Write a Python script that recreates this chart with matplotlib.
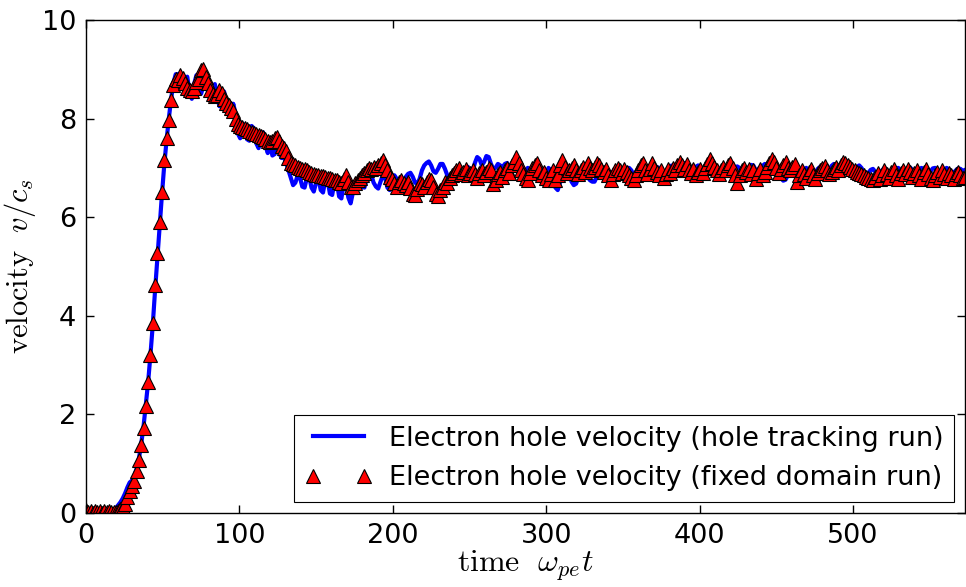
import numpy as np
import matplotlib
matplotlib.use('Agg')
import matplotlib.pyplot as plt

# time grid (omega_pe t), sampled every 1.5
tempo = np.arange(0, 574.5, 1.5)

# hole tracking run (blue line)
v_track = [
    0.03, 0.02, 0.02, 0.03, 0.02, 0.02, 0.03, 0.02, 0.03, 0.04, 0.04, 0.05, 0.07, 0.10, 0.16, 0.22, 0.30, 0.40, 0.52, 0.62,
    0.66, 0.75, 0.90, 1.10, 1.40, 1.75, 2.20, 2.65, 3.20, 3.80, 4.50, 5.15, 5.80, 6.45, 7.05, 7.55, 8.00, 8.40, 8.72, 8.90,
    8.90, 8.75, 8.60, 8.72, 8.85, 8.55, 8.40, 8.70, 8.88, 8.70, 8.50, 8.65, 8.80, 8.55, 8.38, 8.55, 8.70, 8.45, 8.25, 8.45,
    8.55, 8.35, 8.10, 8.05, 8.30, 8.10, 7.70, 7.60, 7.90, 7.85, 7.58, 7.55, 7.85, 7.80, 7.50, 7.40, 7.70, 7.72, 7.45, 7.30,
    7.50, 7.25, 7.28, 7.45, 7.30, 7.20, 7.22, 7.10, 6.95, 6.80, 6.65, 6.70, 6.85, 6.80, 6.62, 6.60, 6.80, 6.82, 6.60, 6.52,
    6.70, 6.80, 6.55, 6.50, 6.75, 6.75, 6.48, 6.45, 6.72, 6.72, 6.42, 6.38, 6.68, 6.70, 6.40, 6.28, 6.50, 6.72, 6.75, 6.58,
    6.62, 6.60, 6.78, 6.88, 6.85, 6.70, 6.62, 6.58, 6.72, 6.85, 6.80, 6.60, 6.55, 6.70, 6.85, 6.78, 6.58, 6.55, 6.68, 6.82,
    6.88, 6.90, 6.82, 6.70, 6.68, 6.78, 6.95, 7.05, 7.10, 7.13, 7.05, 6.93, 6.90, 6.98, 7.08, 7.08, 6.98, 6.85, 6.82, 6.88,
    6.95, 7.00, 6.92, 6.85, 6.90, 7.00, 7.02, 6.95, 6.92, 7.10, 7.22, 7.18, 7.05, 7.12, 7.24, 7.22, 7.08, 6.98, 7.00, 7.08,
    7.05, 7.00, 7.08, 7.10, 7.00, 6.92, 6.95, 7.02, 6.98, 6.90, 6.88, 6.95, 7.00, 6.95, 6.88, 6.85, 6.92, 6.98, 6.95, 6.85,
    6.88, 7.00, 6.95, 6.75, 6.60, 6.55, 6.70, 6.90, 7.00, 6.98, 6.88, 6.72, 6.65, 6.68, 6.82, 6.95, 7.00, 6.95, 6.82, 6.75,
    6.72, 6.72, 6.82, 6.95, 7.00, 6.95, 6.85, 6.80, 6.82, 6.92, 6.98, 6.95, 6.88, 6.85, 6.90, 6.98, 7.00, 6.95, 6.85, 6.82,
    6.88, 6.95, 7.00, 6.98, 6.90, 6.85, 6.88, 6.95, 7.02, 7.00, 6.92, 6.86, 6.88, 6.96, 7.04, 7.05, 6.98, 6.92, 6.95, 7.05,
    7.10, 7.05, 6.95, 6.90, 6.95, 7.02, 7.05, 6.98, 6.90, 6.88, 6.95, 7.03, 7.05, 6.98, 6.90, 6.88, 6.94, 7.00, 7.02, 6.95,
    6.88, 6.90, 6.98, 7.03, 7.00, 6.92, 6.86, 6.90, 7.00, 7.06, 7.05, 6.96, 6.90, 6.94, 7.04, 7.08, 7.06, 6.98, 6.90, 6.92,
    6.98, 6.90, 6.80, 6.74, 6.76, 6.85, 6.95, 6.98, 6.92, 6.84, 6.82, 6.88, 6.96, 7.00, 6.96, 6.88, 6.85, 6.90, 6.98, 7.02,
    6.98, 6.92, 6.90, 6.96, 7.04, 7.08, 7.05, 6.98, 6.95, 7.02, 7.10, 7.13, 7.08, 7.00, 6.98, 7.02, 7.05, 7.00, 6.92, 6.88,
    6.90, 6.96, 6.98, 6.92, 6.86, 6.88, 6.95, 7.00, 6.96, 6.90, 6.88, 6.93, 6.99, 7.00, 6.94, 6.88, 6.90, 6.97, 7.01, 6.97,
    6.90, 6.88, 6.94, 7.00, 6.98, 6.92, 6.89, 6.93, 6.99, 7.00, 6.95, 6.89, 6.90, 6.96, 7.00, 6.97, 6.91, 6.90, 6.95, 6.99,
    6.98, 6.94, 6.96,
]

# fixed domain run (red triangles)
v_fixo = [
    0.06, 0.02, 0.05, 0.01, 0.04, 0.02, 0.05, 0.01, 0.04, 0.02, 0.05, 0.02, 0.03, 0.03, 0.05, 0.08, 0.12, 0.19, 0.32, 0.44,
    0.55, 0.65, 0.85, 1.08, 1.38, 1.72, 2.18, 2.65, 3.20, 3.85, 4.62, 5.28, 5.90, 6.52, 7.15, 7.60, 7.98, 8.38, 8.68, 8.80,
    8.78, 8.88, 8.82, 8.72, 8.62, 8.58, 8.55, 8.62, 8.75, 8.80, 8.98, 9.00, 8.85, 8.72, 8.58, 8.50, 8.45, 8.48, 8.58, 8.52,
    8.40, 8.32, 8.28, 8.22, 8.15, 8.00, 7.88, 7.85, 7.82, 7.80, 7.78, 7.75, 7.73, 7.70, 7.68, 7.66, 7.64, 7.62, 7.58, 7.55,
    7.52, 7.55, 7.60, 7.62, 7.55, 7.45, 7.40, 7.35, 7.20, 7.10, 7.08, 7.05, 7.02, 7.00, 6.98, 6.97, 6.95, 6.92, 6.90, 6.88,
    6.86, 6.85, 6.84, 6.83, 6.82, 6.80, 6.80, 6.78, 6.76, 6.75, 6.72, 6.70, 6.78, 6.85, 6.72, 6.62, 6.62, 6.70, 6.75, 6.80,
    6.85, 6.90, 6.95, 7.00, 6.98, 7.02, 7.00, 7.05, 7.10, 7.16, 7.05, 6.95, 6.82, 6.78, 6.70, 6.62, 6.72, 6.75, 6.70, 6.65,
    6.72, 6.60, 6.48, 6.45, 6.58, 6.70, 6.68, 6.62, 6.72, 6.78, 6.75, 6.62, 6.48, 6.42, 6.55, 6.62, 6.72, 6.70, 6.80, 6.85,
    6.90, 6.95, 7.00, 6.88, 6.92, 6.98, 6.85, 6.90, 6.95, 6.88, 6.80, 6.90, 6.95, 6.85, 6.92, 7.00, 6.95, 6.68, 6.75, 6.88,
    6.92, 6.82, 6.95, 7.00, 6.90, 7.05, 7.12, 7.22, 7.10, 6.95, 6.88, 6.80, 6.75, 6.90, 7.00, 7.05, 7.10, 6.95, 6.85, 6.92,
    6.80, 6.75, 6.88, 6.95, 6.75, 6.85, 7.05, 7.15, 7.02, 6.90, 6.95, 7.00, 7.06, 6.95, 6.88, 6.95, 7.02, 6.92, 7.10, 7.00,
    6.95, 7.02, 7.10, 7.05, 6.98, 6.92, 6.98, 6.85, 6.75, 6.88, 6.95, 7.00, 6.95, 6.90, 6.98, 6.92, 6.85, 6.80, 6.75, 6.85,
    6.95, 7.05, 7.10, 6.95, 6.88, 6.98, 7.10, 7.00, 6.92, 6.85, 6.95, 6.80, 6.88, 6.98, 6.90, 7.00, 6.95, 7.05, 7.12, 7.05,
    6.98, 7.08, 6.95, 6.90, 6.98, 6.85, 6.92, 6.98, 6.90, 7.00, 7.08, 7.18, 7.10, 7.02, 6.95, 6.88, 6.96, 7.02, 6.95, 7.05,
    7.10, 7.00, 6.85, 6.70, 6.85, 6.95, 7.00, 6.92, 6.98, 6.88, 6.95, 6.78, 6.90, 6.98, 6.85, 6.92, 7.02, 7.10, 7.18, 7.12,
    7.00, 6.90, 6.98, 7.05, 7.12, 7.00, 6.95, 7.02, 7.08, 6.72, 6.85, 6.95, 6.88, 6.80, 6.92, 6.98, 6.85, 6.78, 6.90, 6.95,
    7.00, 7.04, 6.95, 6.88, 6.92, 6.98, 7.02, 6.95, 7.05, 7.12, 7.10, 7.05, 7.02, 6.98, 6.95, 6.92, 6.90, 6.88, 6.85, 6.82,
    6.80, 6.78, 6.75, 6.82, 6.90, 6.78, 6.85, 6.95, 6.88, 6.80, 6.92, 6.98, 6.85, 6.78, 6.90, 6.95, 6.88, 6.98, 6.92, 6.82,
    6.90, 6.96, 6.85, 6.78, 6.92, 6.98, 6.88, 6.80, 6.75, 6.85, 6.92, 6.82, 6.95, 6.88, 6.80, 6.90, 6.85, 6.78, 6.88, 6.92,
    6.85, 6.80, 6.82,
]

plt.rcParams['mathtext.fontset'] = 'cm'
plt.rcParams['font.family'] = 'DejaVu Sans'

fig = plt.figure( figsize=(9.66, 5.87), dpi=100 )
ax = fig.add_axes( [0.089, 0.126, 0.910, 0.840] )

ax.plot( tempo, v_track, color='#0000ff', linewidth=3,
         label='Electron hole velocity (hole tracking run)' )
ax.plot( tempo, v_fixo, linestyle='none', marker='^', markersize=9.5,
         markerfacecolor='red', markeredgecolor='black', markeredgewidth=0.8,
         label='Electron hole velocity (fixed domain run)' )

ax.set_xlim( 0, 573 )
ax.set_ylim( 0, 10 )
ax.set_xticks( [0, 100, 200, 300, 400, 500] )
ax.set_yticks( [0, 2, 4, 6, 8, 10] )
ax.tick_params( direction='in', top=True, right=True, length=6, width=1,
                labelsize=19.5, pad=7 )
for s in ax.spines.values():
    s.set_linewidth( 1.0 )

ax.set_xlabel( r'$\mathrm{time}\ \ \omega_{pe}t$', fontsize=23, labelpad=0 )
ax.set_ylabel( r'$\mathrm{velocity}\ \ v/c_s$', fontsize=22, labelpad=3 )

leg = ax.legend( loc='lower right', fontsize=19.5, numpoints=2, fancybox=False,
                 framealpha=1, edgecolor='black', handlelength=2.5,
                 handletextpad=0.6, borderaxespad=0.4, labelspacing=0.5 )
leg.get_frame().set_linewidth( 0.8 )

fig.savefig( 'out.png', dpi=100 )
plt.close()
